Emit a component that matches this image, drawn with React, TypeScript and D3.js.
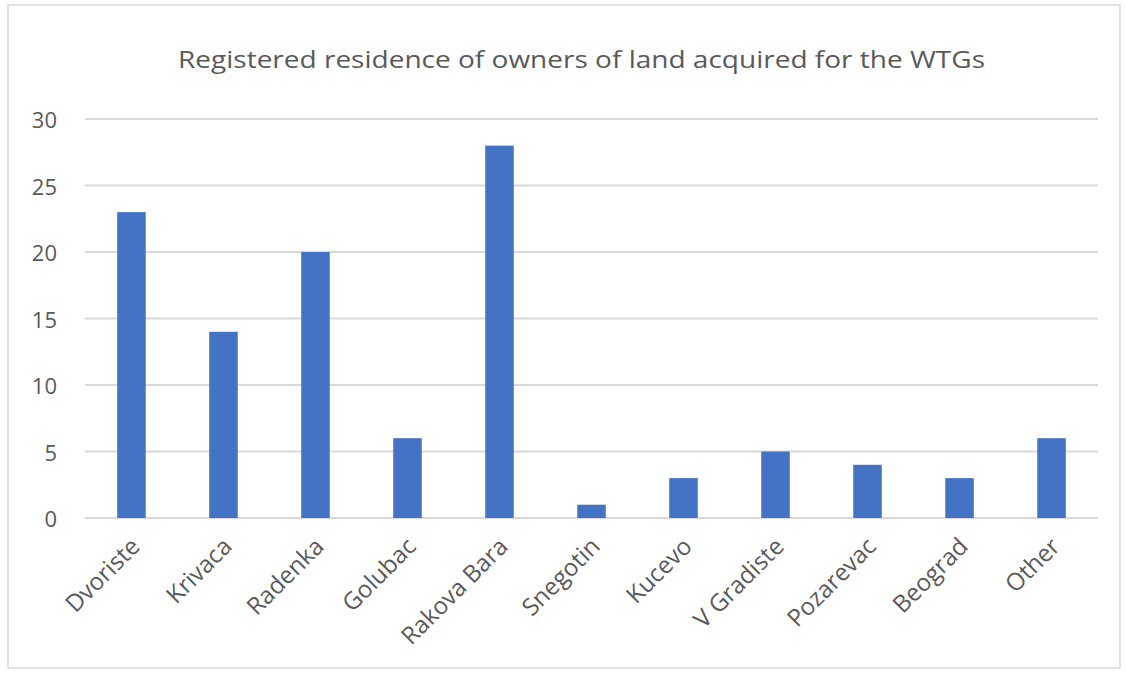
import React from "react";
import * as d3 from "d3";

const categories = ["Dvoriste", "Krivaca", "Radenka", "Golubac", "Rakova Bara", "Snegotin", "Kucevo", "V Gradiste", "Pozarevac", "Beograd", "Other"];
const values = [23, 14, 20, 6, 28, 1, 3, 5, 4, 3, 6];
const yTicks = [0, 5, 10, 15, 20, 25, 30];
const title = "Registered residence of owners of land acquired for the WTGs";

const W = 1126, H = 675;
const margin = { left: 85, right: 28, top: 119, bottom: 157 };

export default function App() {
  const x = d3.scaleBand<string>().domain(categories).range([margin.left, W - margin.right]).paddingInner(0.69).paddingOuter(0.35);
  const y = d3.scaleLinear().domain([0, 30]).range([H - margin.bottom, margin.top]);
  const font = "'Open Sans', 'Noto Sans', sans-serif";
  return (
    <svg width={W} height={H} style={{ position: "absolute", left: 0, top: 0, background: "#fff" }} fontFamily={font}>
      <rect x={8} y={5} width={1112} height={663} fill="#fff" stroke="#d9d9d9" strokeWidth={1.5} />
      <text x={178} y={68} textLength={807} lengthAdjust="spacingAndGlyphs" fontSize={23} fill="#595959">{title}</text>
      {yTicks.map((t) => (
        <g key={t}>
          <line x1={margin.left} x2={W - margin.right} y1={y(t)} y2={y(t)} stroke="#d9d9d9" strokeWidth={2} />
          <text x={57} y={y(t)} dy="0.42em" textAnchor="end" fontSize={22} fill="#595959">{t}</text>
        </g>
      ))}
      {categories.map((c, i) => (
        <rect key={c} x={x(c)} y={y(values[i])} width={x.bandwidth()} height={y(0) - y(values[i])} fill="#4472c4" />
      ))}
      {categories.map((c) => {
        const cx = (x(c) as number) + x.bandwidth() / 2 + 4;
        const cy = y(0) + 24;
        return (
          <text key={c} x={cx} y={cy} transform={`rotate(-45 ${cx} ${cy})`} textAnchor="end" dy="0.35em" fontSize={24} fill="#595959">{c}</text>
        );
      })}
    </svg>
  );
}
